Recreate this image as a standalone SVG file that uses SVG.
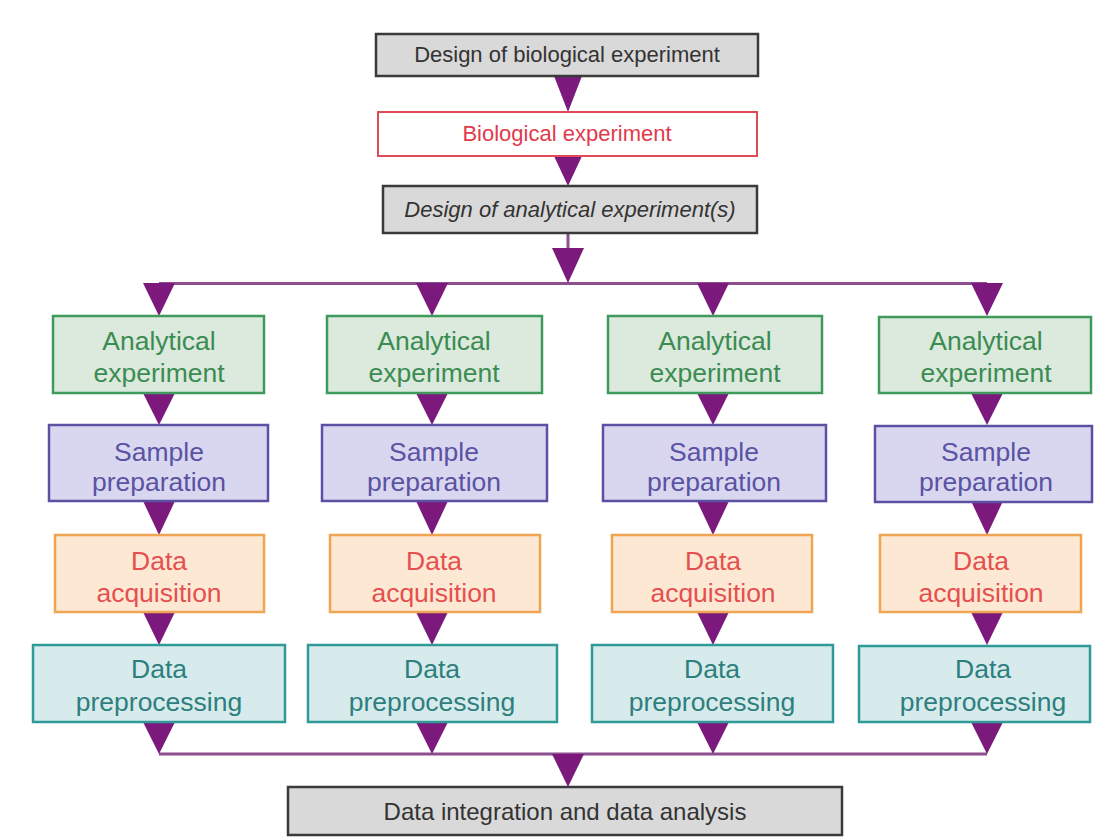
<svg xmlns="http://www.w3.org/2000/svg" width="1094" height="837" viewBox="0 0 1094 837">
<style>
text{font-family:"Liberation Sans",Arial,sans-serif;text-anchor:middle}
.t22{font-size:22px}
.t25{font-size:26.5px}
.grey rect{fill:#d9d9d9;stroke:#3a3a3a;stroke-width:2.5}
.grey text{fill:#333}
.bio rect{fill:#fff;stroke:#e04a58;stroke-width:2}
.bio text{fill:#e03a4c}
.ae rect{fill:#dce9dd;stroke:#3f9a5c;stroke-width:2.5}
.ae text{fill:#3b8c52}
.sp rect{fill:#d9d7f0;stroke:#5b50a3;stroke-width:2.5}
.sp text{fill:#5a52a3}
.da rect{fill:#fde9d3;stroke:#f0a552;stroke-width:2.5}
.da text{fill:#e64f4f}
.dp rect{fill:#d7ebec;stroke:#2f9a98;stroke-width:2.5}
.dp text{fill:#2d7f7e}
.line{stroke:#8e4f8e;stroke-width:3;fill:none}
.tri{fill:#7b1a7c}
</style>

<g id="connectors">
  <path class="line" d="M568 233 V250"/>
  <path class="line" d="M159 283.5 H987"/>
  <path class="line" d="M159 754 H987"/>
  <polygon class="tri" points="554,76 582,76 568,112"/>
  <polygon class="tri" points="554,156 582,156 568,186"/>
  <polygon class="tri" points="552,248 584,248 568,283"/>
  <polygon class="tri" points="552,754 584,754 568,787"/>
  <!-- column 1 -->
  <polygon class="tri" points="143,283 175,283 159,316"/>
  <polygon class="tri" points="143,393 175,393 159,425"/>
  <polygon class="tri" points="143,501 175,501 159,535"/>
  <polygon class="tri" points="143,612 175,612 159,645"/>
  <polygon class="tri" points="143,722 175,722 159,754"/>
  <!-- column 2 -->
  <polygon class="tri" points="416,283 448,283 432,316"/>
  <polygon class="tri" points="416,393 448,393 432,425"/>
  <polygon class="tri" points="416,501 448,501 432,535"/>
  <polygon class="tri" points="416,612 448,612 432,645"/>
  <polygon class="tri" points="416,722 448,722 432,754"/>
  <!-- column 3 -->
  <polygon class="tri" points="697,283 729,283 713,316"/>
  <polygon class="tri" points="697,393 729,393 713,425"/>
  <polygon class="tri" points="697,501 729,501 713,535"/>
  <polygon class="tri" points="697,612 729,612 713,645"/>
  <polygon class="tri" points="697,722 729,722 713,754"/>
  <!-- column 4 -->
  <polygon class="tri" points="971,283 1003,283 987,316"/>
  <polygon class="tri" points="971,393 1003,393 987,425"/>
  <polygon class="tri" points="971,501 1003,501 987,535"/>
  <polygon class="tri" points="971,612 1003,612 987,645"/>
  <polygon class="tri" points="971,722 1003,722 987,754"/>
</g>

<g id="design-bio" class="grey">
  <rect x="376" y="34" width="382" height="42"/>
  <text class="t22" x="567" y="62">Design of biological experiment</text>
</g>
<g id="bio-exp" class="bio">
  <rect x="378" y="112" width="379" height="44"/>
  <text class="t22" x="567" y="141">Biological experiment</text>
</g>
<g id="design-ana" class="grey">
  <rect x="383" y="186" width="374" height="47"/>
  <text class="t22" x="570" y="217" font-style="italic">Design of analytical experiment(s)</text>
</g>

<!-- Column 1 -->
<g id="ae1" class="ae">
  <rect x="53" y="316" width="211" height="77"/>
  <text class="t25" x="159" y="350">Analytical</text>
  <text class="t25" x="159" y="382">experiment</text>
</g>
<g id="sp1" class="sp">
  <rect x="49" y="425" width="219" height="76"/>
  <text class="t25" x="159" y="461">Sample</text>
  <text class="t25" x="159" y="491">preparation</text>
</g>
<g id="da1" class="da">
  <rect x="55" y="535" width="209" height="77"/>
  <text class="t25" x="159" y="570">Data</text>
  <text class="t25" x="159" y="602">acquisition</text>
</g>
<g id="dp1" class="dp">
  <rect x="33" y="645" width="252" height="77"/>
  <text class="t25" x="159" y="678">Data</text>
  <text class="t25" x="159" y="711">preprocessing</text>
</g>

<!-- Column 2 -->
<g id="ae2" class="ae">
  <rect x="327" y="316" width="215" height="77"/>
  <text class="t25" x="434" y="350">Analytical</text>
  <text class="t25" x="434" y="382">experiment</text>
</g>
<g id="sp2" class="sp">
  <rect x="322" y="425" width="225" height="76"/>
  <text class="t25" x="434" y="461">Sample</text>
  <text class="t25" x="434" y="491">preparation</text>
</g>
<g id="da2" class="da">
  <rect x="330" y="535" width="210" height="77"/>
  <text class="t25" x="434" y="570">Data</text>
  <text class="t25" x="434" y="602">acquisition</text>
</g>
<g id="dp2" class="dp">
  <rect x="308" y="645" width="249" height="77"/>
  <text class="t25" x="432" y="678">Data</text>
  <text class="t25" x="432" y="711">preprocessing</text>
</g>

<!-- Column 3 -->
<g id="ae3" class="ae">
  <rect x="608" y="316" width="214" height="77"/>
  <text class="t25" x="715" y="350">Analytical</text>
  <text class="t25" x="715" y="382">experiment</text>
</g>
<g id="sp3" class="sp">
  <rect x="603" y="425" width="223" height="76"/>
  <text class="t25" x="714" y="461">Sample</text>
  <text class="t25" x="714" y="491">preparation</text>
</g>
<g id="da3" class="da">
  <rect x="612" y="535" width="200" height="77"/>
  <text class="t25" x="713" y="570">Data</text>
  <text class="t25" x="713" y="602">acquisition</text>
</g>
<g id="dp3" class="dp">
  <rect x="592" y="645" width="241" height="77"/>
  <text class="t25" x="712" y="678">Data</text>
  <text class="t25" x="712" y="711">preprocessing</text>
</g>

<!-- Column 4 -->
<g id="ae4" class="ae">
  <rect x="879" y="317" width="212" height="76"/>
  <text class="t25" x="986" y="350">Analytical</text>
  <text class="t25" x="986" y="382">experiment</text>
</g>
<g id="sp4" class="sp">
  <rect x="875" y="426" width="217" height="76"/>
  <text class="t25" x="986" y="461">Sample</text>
  <text class="t25" x="986" y="491">preparation</text>
</g>
<g id="da4" class="da">
  <rect x="880" y="535" width="201" height="77"/>
  <text class="t25" x="981" y="570">Data</text>
  <text class="t25" x="981" y="602">acquisition</text>
</g>
<g id="dp4" class="dp">
  <rect x="859" y="646" width="231" height="76"/>
  <text class="t25" x="983" y="678">Data</text>
  <text class="t25" x="983" y="711">preprocessing</text>
</g>

<g id="integration" class="grey">
  <rect x="288" y="787" width="554" height="48"/>
  <text class="t22" x="565" y="820" style="font-size:24px">Data integration and data analysis</text>
</g>
</svg>
